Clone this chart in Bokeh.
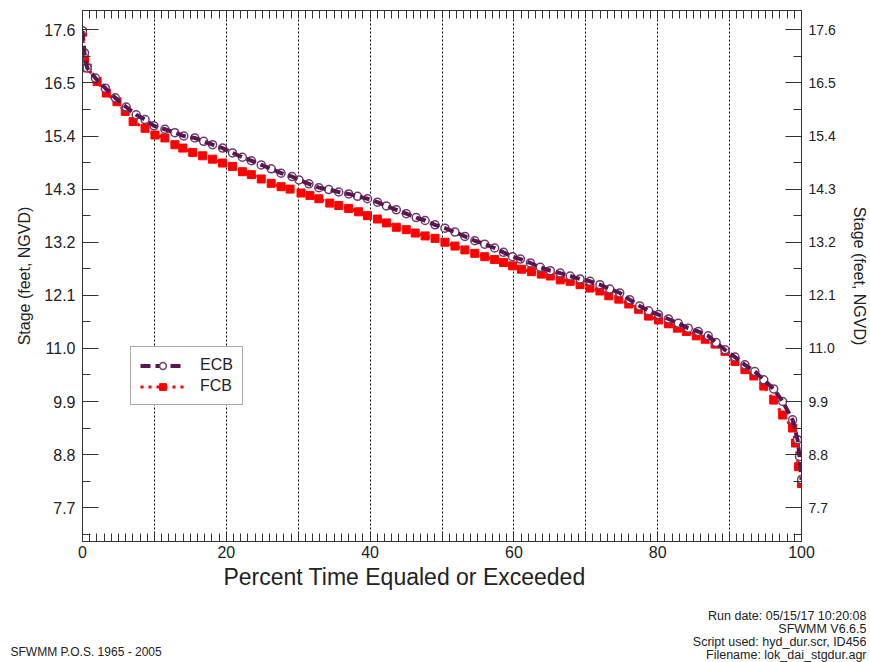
from bokeh.plotting import figure
from bokeh.layouts import column, row
from bokeh.models import (LinearAxis, FixedTicker, Range1d, Label, Legend,
                          LegendItem, PrintfTickFormatter, CustomJSTickFormatter)
from bokeh.embed import file_html
from bokeh.resources import INLINE

# ---------------- data ----------------
ecb_pct = [0.0, 0.28, 0.65, 1.8, 3.18, 4.56, 6.08, 7.46, 8.7, 9.94, 11.46, 12.85, 14.09,
           15.61, 16.85, 18.09, 19.48, 20.86, 22.24, 23.48, 24.86, 26.24, 27.62, 29.14,
           30.11, 31.49, 32.87, 34.25, 35.64, 37.02, 38.26, 39.64, 41.02, 42.27, 43.65,
           45.03, 46.41, 47.65, 49.03, 50.41, 51.8, 53.18, 54.56, 55.94, 57.32, 58.56,
           59.81, 60.91, 62.29, 63.67, 65.06, 66.44, 67.82, 69.2, 70.58, 71.96, 73.34,
           74.72, 76.1, 77.49, 78.73, 80.11, 81.49, 82.87, 84.25, 85.64, 87.02, 88.12,
           89.36, 90.75, 92.13, 93.51, 94.75, 96.13, 97.38, 98.76, 99.45, 99.72, 100.0]
ecb_stage = [17.58, 17.12, 16.81, 16.6, 16.39, 16.19, 16.0, 15.84, 15.74, 15.61, 15.54,
             15.47, 15.4, 15.36, 15.29, 15.22, 15.15, 15.05, 14.96, 14.89, 14.8, 14.72,
             14.63, 14.56, 14.49, 14.41, 14.33, 14.29, 14.24, 14.2, 14.15, 14.1, 14.03,
             13.95, 13.87, 13.79, 13.71, 13.65, 13.56, 13.49, 13.41, 13.32, 13.23, 13.16,
             13.08, 12.99, 12.9, 12.85, 12.77, 12.68, 12.61, 12.56, 12.5, 12.44, 12.39,
             12.32, 12.23, 12.15, 12.01, 11.88, 11.78, 11.7, 11.61, 11.52, 11.42, 11.35,
             11.26, 11.12, 10.97, 10.82, 10.66, 10.52, 10.35, 10.16, 9.9, 9.52, 9.11,
             8.76, 8.28]

fcb_pct = [0.0, 0.28, 0.65, 2.03, 3.31, 4.79, 5.94, 7.04, 8.7, 10.08, 11.46, 12.85, 13.95,
           15.33, 16.71, 18.09, 19.48, 20.86, 22.24, 23.48, 24.86, 26.24, 27.62, 28.87,
           30.39, 31.63, 32.87, 34.39, 35.64, 37.02, 38.4, 39.64, 41.02, 42.27, 43.65,
           45.03, 46.27, 47.65, 49.03, 50.41, 51.8, 53.18, 54.56, 55.94, 57.32, 58.56,
           59.81, 61.05, 62.43, 63.81, 65.06, 66.44, 67.82, 69.2, 70.58, 71.96, 73.2,
           74.59, 75.97, 77.35, 78.73, 80.11, 81.49, 82.73, 83.98, 85.36, 86.6, 87.98,
           89.36, 90.75, 92.13, 93.37, 94.75, 96.13, 97.38, 98.76, 99.17, 99.59, 100.0]
fcb_stage = [17.55, 17.0, 16.81, 16.53, 16.29, 16.11, 15.91, 15.7, 15.56, 15.42, 15.36,
             15.22, 15.15, 15.06, 14.99, 14.92, 14.84, 14.77, 14.66, 14.6, 14.51, 14.42,
             14.35, 14.3, 14.22, 14.17, 14.1, 14.01, 13.96, 13.9, 13.83, 13.75, 13.68,
             13.6, 13.51, 13.46, 13.39, 13.33, 13.28, 13.2, 13.12, 13.04, 12.97, 12.9,
             12.84, 12.78, 12.71, 12.64, 12.59, 12.54, 12.5, 12.42, 12.39, 12.32, 12.25,
             12.19, 12.09, 12.02, 11.92, 11.81, 11.67, 11.59, 11.51, 11.42, 11.35, 11.26,
             11.19, 11.09, 10.94, 10.73, 10.56, 10.43, 10.22, 9.93, 9.62, 9.35, 9.04,
             8.55, 8.2]

y_ticks = [7.7, 8.8, 9.9, 11.0, 12.1, 13.2, 14.3, 15.4, 16.5, 17.6]
y_minor = [7.15, 8.25, 9.35, 10.45, 11.55, 12.65, 13.75, 14.85, 15.95, 17.05]
x_ticks = [0, 20, 40, 60, 80, 100]
x_minor = list(range(0, 101))
x_grid = [10, 20, 30, 40, 50, 60, 70, 80, 90]

series_names = ["ECB", "FCB"]
x_title = "Percent Time Equaled or Exceeded"
y_title = "Stage (feet, NGVD)"
footer_left = "SFWMM P.O.S. 1965 - 2005"
footer_right = ["Run date: 05/15/17 10:20:08", "SFWMM V6.6.5",
                "Script used: hyd_dur.scr, ID456", "Filename: lok_dai_stgdur.agr"]

FONT = "Liberation Sans"
AXC = "#333333"
TXT = "#222222"
ECB_C = "#5b1650"
ECB_M = "#6e3c6b"
FCB_C = "#ff0000"

W, H = 870, 662
FL, FT, FR, FB = 82, 10, 806, 541   # frame edges in page pixels
H1 = 564                            # height of the chart canvas
H2 = H - H1                         # height of the caption strip below it

p = figure(width=W, height=H1, x_range=Range1d(0, 100), y_range=Range1d(7.0, 18.0),
           output_backend="svg", toolbar_location=None,
           min_border_left=FL, min_border_right=W - FR, min_border_top=FT,
           min_border_bottom=H1 - FB)
p.background_fill_color = "white"
p.border_fill_color = "white"
p.outline_line_color = AXC
p.outline_line_width = 1

# grid
p.ygrid.visible = False
p.xgrid.ticker = FixedTicker(ticks=x_grid)
p.xgrid.grid_line_color = "black"
p.xgrid.grid_line_dash = "2 2"
p.xgrid.grid_line_width = 1


def style_ticks(ax, major_in, minor_in):
    ax.major_tick_in = major_in
    ax.major_tick_out = 0
    ax.minor_tick_in = minor_in
    ax.minor_tick_out = 0
    ax.axis_line_color = AXC
    ax.major_tick_line_color = AXC
    ax.minor_tick_line_color = AXC


# bottom axis
xa = p.xaxis[0]
xa.ticker = FixedTicker(ticks=x_ticks, minor_ticks=x_minor)
style_ticks(xa, 8, 8)
xa.major_label_text_font = FONT
xa.major_label_text_font_size = "16px"
xa.major_label_text_color = TXT
xa.major_label_standoff = 4

# top axis (ticks only)
ta = LinearAxis(ticker=FixedTicker(ticks=x_ticks, minor_ticks=x_minor),
                formatter=CustomJSTickFormatter(code="return ''"))
style_ticks(ta, 8, 8)
ta.major_label_text_font_size = "1px"
ta.major_label_standoff = 0
p.add_layout(ta, "above")

# left axis
ya = p.yaxis[0]
ya.ticker = FixedTicker(ticks=y_ticks, minor_ticks=y_minor)
ya.formatter = PrintfTickFormatter(format="%.1f")
style_ticks(ya, 16, 8)
ya.major_label_text_font = FONT
ya.major_label_text_font_size = "16px"
ya.major_label_text_color = TXT
ya.major_label_standoff = 7
ya.axis_label = y_title
ya.axis_label_text_font = FONT
ya.axis_label_text_font_size = "16px"
ya.axis_label_text_font_style = "normal"
ya.axis_label_text_color = TXT
ya.axis_label_standoff = 8

# right axis
ra = LinearAxis(ticker=FixedTicker(ticks=y_ticks, minor_ticks=y_minor),
                formatter=PrintfTickFormatter(format="%.1f"))
style_ticks(ra, 16, 8)
ra.major_label_text_font = FONT
ra.major_label_text_font_size = "14px"
ra.major_label_text_color = TXT
ra.major_label_standoff = 7
ra.axis_label = y_title
ra.axis_label_text_font = FONT
ra.axis_label_text_font_size = "16px"
ra.axis_label_text_font_style = "normal"
ra.axis_label_text_color = TXT
ra.axis_label_standoff = 12
p.add_layout(ra, "right")

# series
fcb_line = p.line(fcb_pct, fcb_stage, line_color=FCB_C, line_width=3, line_dash="3 5")
fcb_mark = p.scatter(fcb_pct, fcb_stage, marker="square", size=8, fill_color=FCB_C,
                     line_color=FCB_C)
ecb_mark = p.scatter(ecb_pct, ecb_stage, marker="circle", size=8, fill_color="white",
                     line_color=ECB_M, line_width=1.5)
ecb_line = p.line(ecb_pct, ecb_stage, line_color=ECB_C, line_width=4, line_dash="10 5")

legend = Legend(items=[LegendItem(label=series_names[0], renderers=[ecb_line, ecb_mark]),
                       LegendItem(label=series_names[1], renderers=[fcb_line, fcb_mark])],
                location=(48, 136))
legend.label_text_font = FONT
legend.label_text_font_size = "16px"
legend.label_text_color = TXT
legend.glyph_width = 45
legend.glyph_height = 17
legend.label_height = 17
legend.label_standoff = 15
legend.spacing = 3
legend.padding = 9
legend.margin = 0
legend.border_line_color = "#555555"
legend.border_line_width = 1
legend.background_fill_color = "white"
legend.background_fill_alpha = 1.0
p.add_layout(legend)

# ---------------- caption strip (x title + footers) ----------------
p2 = figure(width=W, height=H2, x_range=Range1d(0, 1), y_range=Range1d(0, 1),
            output_backend="svg", toolbar_location=None,
            x_axis_type=None, y_axis_type=None,
            min_border_left=0, min_border_right=0, min_border_top=0, min_border_bottom=0)
p2.outline_line_color = None
p2.background_fill_color = "white"
p2.border_fill_color = "white"


def strip_label(px, py, text, size, align):
    # px, py: page pixels (strip measured from its bottom-left corner)
    return Label(x=px, y=H - py, x_units="screen", y_units="screen", text=text,
                 text_font=FONT, text_font_size=size, text_color=TXT,
                 text_align=align, text_baseline="alphabetic")


p2.add_layout(strip_label(404, 576, x_title, "23px", "center"))
p2.add_layout(strip_label(10, 651, footer_left, "12px", "left"))
for i, t in enumerate(footer_right):
    p2.add_layout(strip_label(866, 615 + 13.2 * i, t, "12.5px", "right"))

# wrapping the strip in its own row keeps its frame from being aligned with the chart's
layout = column(p, row(p2, spacing=0), spacing=0)
open("out.html", "w").write(file_html(layout, INLINE))
